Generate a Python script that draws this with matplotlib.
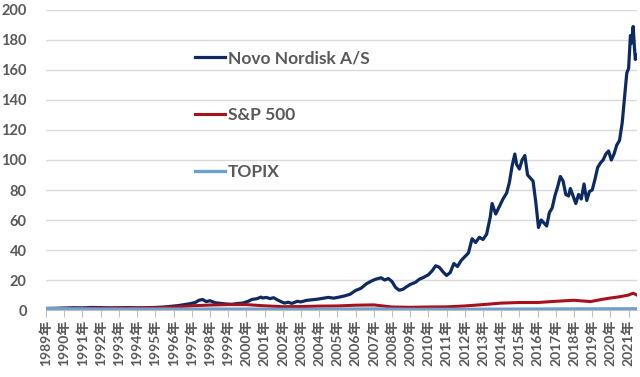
import matplotlib.pyplot as plt

plt.rcParams['font.family'] = ['Lato', 'Noto Sans CJK JP']
plt.rcParams['font.weight'] = 'bold'

# Novo Nordisk A/S (index)
novo_t = [1989.0, 1989.5, 1990.0, 1990.5, 1991.0, 1991.5, 1992.0, 1992.5,
          1993.0, 1993.5, 1994.0, 1994.5, 1995.0, 1995.5, 1996.0, 1996.3,
          1996.6, 1996.9, 1997.2, 1997.4, 1997.6, 1997.8, 1998.0, 1998.3,
          1998.6, 1998.9, 1999.2, 1999.5, 1999.8, 2000.1, 2000.3, 2000.6,
          2000.8, 2000.9, 2001.1, 2001.3, 2001.5, 2001.7, 2001.9, 2002.1,
          2002.3, 2002.5, 2002.8, 2003.0, 2003.3, 2003.6, 2003.9, 2004.2,
          2004.5, 2004.8, 2005.1, 2005.4, 2005.7, 2006.0, 2006.3, 2006.6,
          2006.9, 2007.1, 2007.4, 2007.6, 2007.8, 2008.0, 2008.2, 2008.4,
          2008.6, 2008.8, 2009.0, 2009.3, 2009.5, 2009.7, 2010.0, 2010.2,
          2010.4, 2010.6, 2010.8, 2011.0, 2011.2, 2011.4, 2011.6, 2011.8,
          2012.0, 2012.2, 2012.4, 2012.6, 2012.8, 2013.0, 2013.2, 2013.4,
          2013.5, 2013.7, 2013.9, 2014.1, 2014.3, 2014.45, 2014.6, 2014.75,
          2014.85, 2015.0, 2015.15, 2015.3, 2015.45, 2015.6, 2015.75, 2015.9,
          2016.05, 2016.2, 2016.35, 2016.5, 2016.65, 2016.8, 2016.95, 2017.1,
          2017.25, 2017.4, 2017.55, 2017.7, 2017.8, 2017.95, 2018.1, 2018.25,
          2018.4, 2018.55, 2018.7, 2018.85, 2019.0, 2019.15, 2019.3, 2019.45,
          2019.6, 2019.75, 2019.9, 2020.05, 2020.2, 2020.35, 2020.5, 2020.65,
          2020.8, 2020.9, 2021.0, 2021.1, 2021.17, 2021.25, 2021.32, 2021.37,
          2021.42]
novo_v = [1.0, 1.1, 1.3, 1.5, 1.4, 1.7, 1.6, 1.4,
          1.5, 1.6, 1.4, 1.5, 1.7, 2.0, 2.6, 3.0,
          3.6, 4.2, 5.0, 6.5, 7.0, 5.6, 6.2, 4.8,
          4.4, 4.0, 3.8, 4.3, 4.6, 5.8, 7.0, 7.6,
          8.6, 8.0, 8.4, 7.6, 8.2, 6.8, 5.6, 4.6,
          5.2, 4.4, 5.8, 5.4, 6.4, 6.8, 7.2, 7.8,
          8.4, 7.9, 8.6, 9.4, 10.5, 13.0, 14.5, 17.5,
          19.5, 20.5, 21.5, 20.0, 21.0, 19.0, 15.0, 13.2,
          13.8, 15.5, 17.0, 18.5, 20.5, 21.5, 23.5, 26.0,
          29.5, 28.5, 25.5, 23.0, 25.0, 31.0, 29.0, 33.0,
          35.5, 38.0, 47.5, 45.0, 48.5, 47.0, 50.5, 62.0,
          71.0, 64.0, 69.0, 74.0, 78.0, 85.0, 96.0, 104.0,
          97.0, 94.0, 100.0, 103.0, 90.0, 88.0, 86.0, 72.0,
          55.0, 60.0, 58.0, 56.0, 65.0, 68.0, 76.0, 82.0,
          89.0, 86.0, 77.0, 76.0, 81.0, 76.0, 71.0, 77.0,
          74.0, 84.0, 73.0, 79.0, 80.0, 87.0, 95.0, 98.0,
          100.0, 104.0, 106.0, 100.0, 104.0, 110.0, 113.0, 125.0,
          145.0, 158.0, 161.0, 183.0, 178.0, 189.0, 175.0, 167.0,
          170.0]

# S&P 500
sp_t = [1989.0, 1990.0, 1991.0, 1992.0, 1993.0, 1994.0, 1995.0, 1996.0,
        1997.0, 1998.0, 1999.0, 2000.0, 2001.0, 2002.0, 2003.0, 2004.0,
        2005.0, 2006.0, 2007.0, 2008.0, 2009.0, 2010.0, 2011.0, 2012.0,
        2013.0, 2014.0, 2015.0, 2016.0, 2017.0, 2018.0, 2018.9, 2019.5,
        2020.0, 2020.5, 2021.0, 2021.25, 2021.42]
sp_v = [1.0, 1.1, 1.1, 1.3, 1.3, 1.4, 1.5, 2.0,
        2.8, 3.3, 3.6, 3.6, 2.8, 2.2, 2.3, 2.6,
        2.7, 3.2, 3.4, 2.0, 1.8, 2.0, 2.1, 2.7,
        3.6, 4.6, 5.0, 5.0, 5.8, 6.5, 5.6, 7.0,
        8.0, 8.8, 10.0, 11.2, 10.2]

# TOPIX
topix_t = [1989.0, 1990.0, 1992.0, 1995.0, 2000.0, 2003.0, 2007.0, 2009.0,
           2013.0, 2018.0, 2021.42]
topix_v = [1.0, 0.8, 0.6, 0.6, 0.6, 0.4, 0.7, 0.4, 0.5, 0.7, 0.8]

years = list(range(1989, 2022))
year_labels = [f'{y}年' for y in years]

fig = plt.figure(figsize=(6.4, 3.77), dpi=100)
ax = fig.add_axes([0.072, 0.1777, 0.923, 0.7958])

ax.plot(novo_t, novo_v, color='#0d2a62', lw=2.3, label='Novo Nordisk A/S')
ax.plot(sp_t, sp_v, color='#a8101c', lw=2.2, label='S&P 500')
ax.plot(topix_t, topix_v, color='#6fa0cc', lw=2.4, label='TOPIX')

ax.set_ylim(0, 200)
ax.set_xlim(1989, 2021.45)
ax.set_yticks(range(0, 201, 20))
ax.yaxis.grid(True, color='#d9d9d9', lw=1)
ax.set_axisbelow(True)
for s in ['left', 'right', 'top']:
    ax.spines[s].set_visible(False)
ax.spines['bottom'].set_color('#bfbfbf')

ax.tick_params(axis='y', length=0, pad=14, labelsize=10.5, labelcolor='#595959')
ax.set_xticks(years)
ax.set_xticklabels(year_labels, rotation=90)
ax.tick_params(axis='x', length=5, color='#bfbfbf', pad=2, labelsize=10,
               labelcolor='#595959')

leg = ax.legend(loc='upper left', bbox_to_anchor=(0.305, 0.867),
                bbox_transform=fig.transFigure, frameon=False, borderpad=0,
                borderaxespad=0, handlelength=1.7, handletextpad=0.2,
                labelspacing=2.35, prop={'size': 12.5, 'weight': 'bold'})
for t in leg.get_texts():
    t.set_color('#595959')

fig.savefig('out.png', dpi=100)
